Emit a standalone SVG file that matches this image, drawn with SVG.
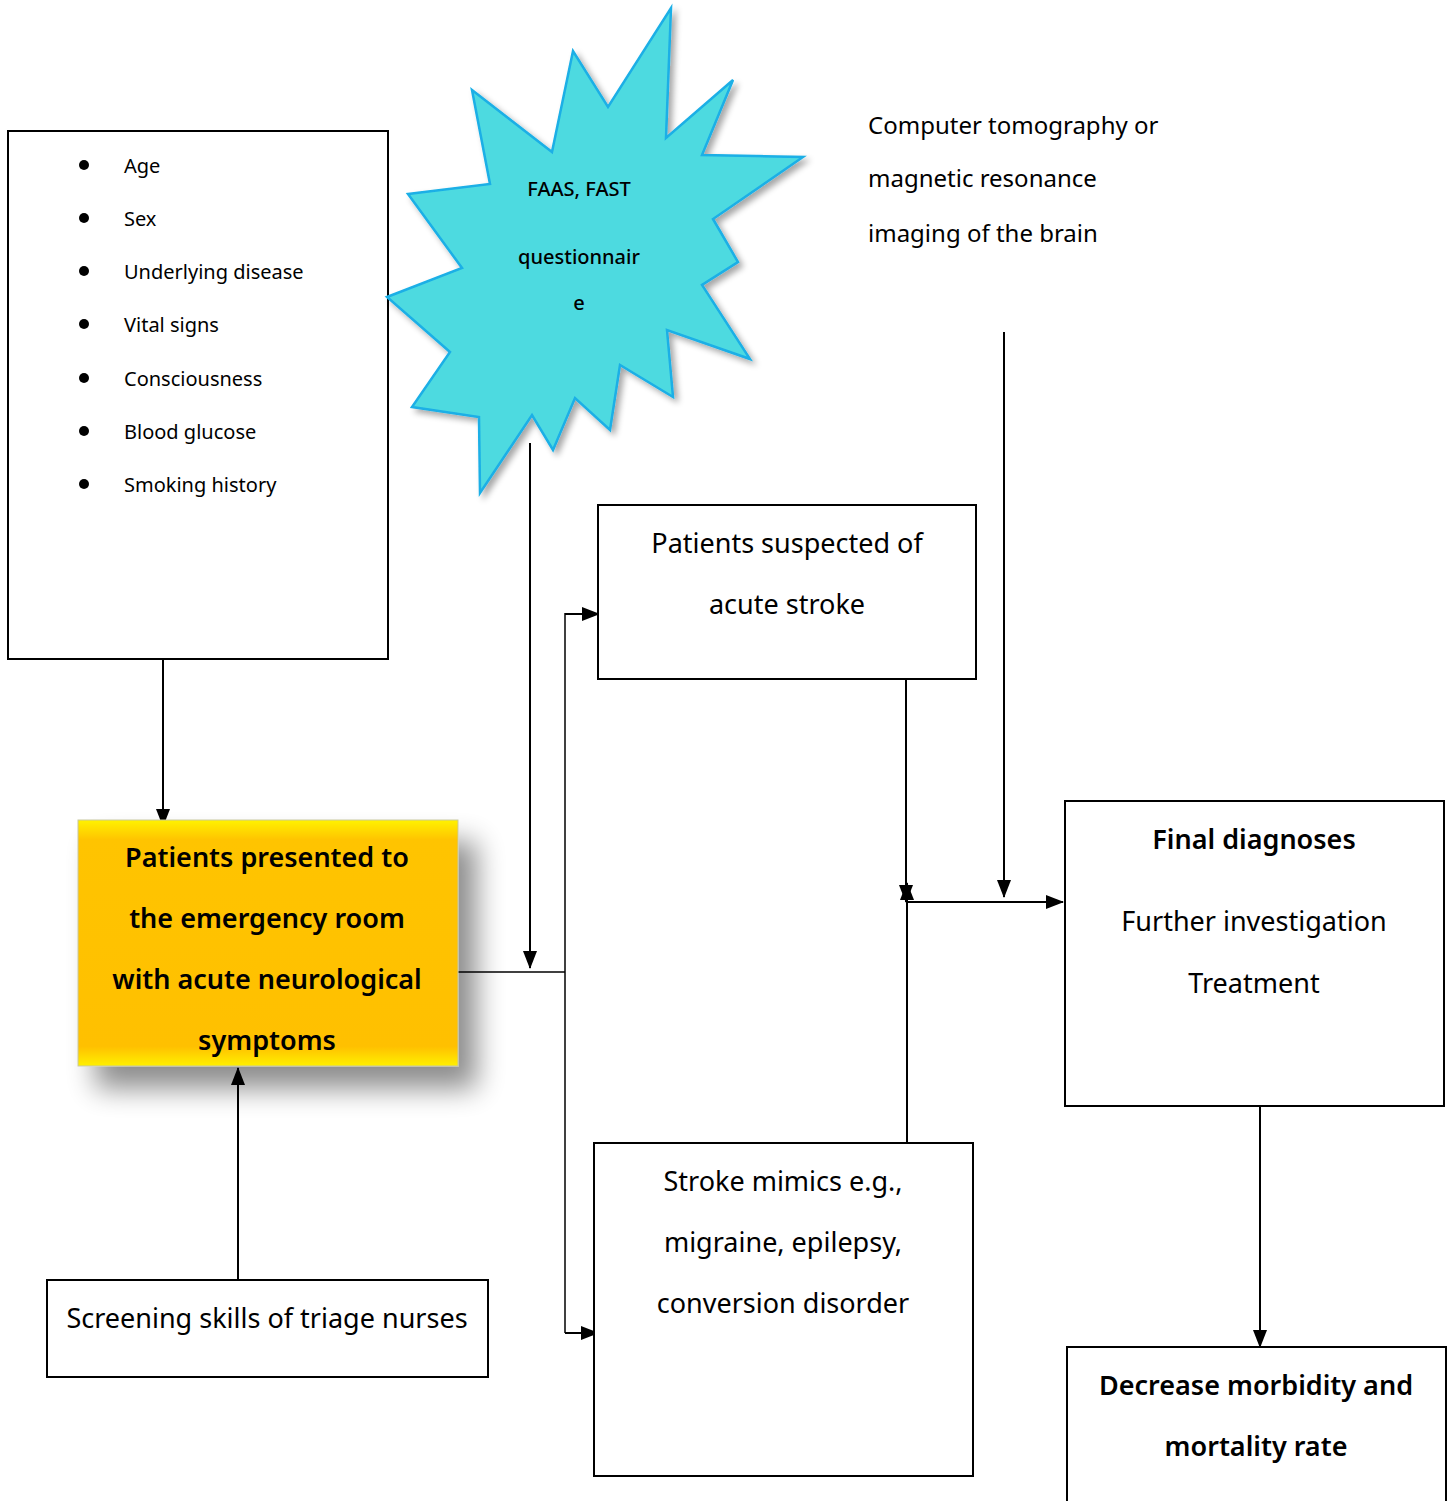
<svg xmlns="http://www.w3.org/2000/svg" width="1452" height="1501" viewBox="0 0 1452 1501">
<style>
.box{fill:#fff;stroke:#000;stroke-width:2}
.ln{fill:none;stroke:#000;stroke-width:2}
.t{font-family:"Noto Sans","DejaVu Sans",sans-serif;fill:#000}
.s{font-size:20px}
.m{font-size:27px;text-anchor:middle}
.b{font-weight:600}
</style>
<defs>
<marker id="ah" markerWidth="18" markerHeight="16" refX="17" refY="8" orient="auto" markerUnits="userSpaceOnUse">
<path d="M0,1 L18,8 L0,15 Z" fill="#000"/>
</marker>
<linearGradient id="yv" x1="0" y1="0" x2="0" y2="1">
<stop offset="0" stop-color="#FFF200"/>
<stop offset="0.08" stop-color="#FFC400"/>
<stop offset="0.92" stop-color="#FFC000"/>
<stop offset="1" stop-color="#FFF000"/>
</linearGradient>
<filter id="sh" x="-20%" y="-20%" width="160%" height="170%">
<feGaussianBlur in="SourceAlpha" stdDeviation="14"/>
<feOffset dx="18" dy="22"/>
<feComponentTransfer><feFuncA type="linear" slope="0.45"/></feComponentTransfer>
<feMerge><feMergeNode/><feMergeNode in="SourceGraphic"/></feMerge>
</filter>
<filter id="sh2" x="-20%" y="-20%" width="140%" height="140%">
<feGaussianBlur in="SourceAlpha" stdDeviation="3"/>
<feOffset dx="4" dy="4"/>
<feComponentTransfer><feFuncA type="linear" slope="0.35"/></feComponentTransfer>
<feMerge><feMergeNode/><feMergeNode in="SourceGraphic"/></feMerge>
</filter>
</defs>
<rect width="1452" height="1501" fill="#fff"/>

<g id="connectors">
<line class="ln" x1="163" y1="659" x2="163" y2="826" marker-end="url(#ah)"/>
<line class="ln" x1="238" y1="1280" x2="238" y2="1068" marker-end="url(#ah)"/>
<line class="ln" x1="530" y1="443" x2="530" y2="968" marker-end="url(#ah)"/>
<polyline class="ln" points="458,972 565,972" style="stroke-width:1.5"/>
<polyline class="ln" points="565,613 565,1333" style="stroke-width:1.5"/>
<line class="ln" x1="565" y1="614" x2="599" y2="614" marker-end="url(#ah)"/>
<line class="ln" x1="565" y1="1333" x2="598" y2="1333" marker-end="url(#ah)"/>
<line class="ln" x1="906" y1="679" x2="906" y2="902" marker-end="url(#ah)"/>
<line class="ln" x1="907" y1="1143" x2="907" y2="883" marker-end="url(#ah)"/>
<line class="ln" x1="908" y1="902" x2="1063" y2="902" marker-end="url(#ah)"/>
<line class="ln" x1="1004" y1="332" x2="1004" y2="897" marker-end="url(#ah)"/>
<line class="ln" x1="1260" y1="1106" x2="1260" y2="1347" marker-end="url(#ah)"/>
</g>

<g id="factors">
<rect class="box" x="8" y="131" width="380" height="528"/>
<g fill="#000">
<circle cx="84" cy="165" r="5"/><circle cx="84" cy="218" r="5"/><circle cx="84" cy="271" r="5"/>
<circle cx="84" cy="324" r="5"/><circle cx="84" cy="378" r="5"/><circle cx="84" cy="431" r="5"/>
<circle cx="84" cy="484" r="5"/>
</g>
<text class="t s" x="124" y="173">Age</text>
<text class="t s" x="124" y="226">Sex</text>
<text class="t s" x="124" y="279">Underlying disease</text>
<text class="t s" x="124" y="332">Vital signs</text>
<text class="t s" x="124" y="386">Consciousness</text>
<text class="t s" x="124" y="439">Blood glucose</text>
<text class="t s" x="124" y="492">Smoking history</text>
</g>

<g id="faas">
<polygon filter="url(#sh2)" fill="#4DDAE0" stroke="#1AAFE6" stroke-width="2.5" points="671,8 666,138 733,80 702,155 803,157 713,219 738,262 702,285 750,359 667,330 673,397 620,365 610,430 575,398 553,450 532,415 480,493 479,417 412,407 450,352 387,297 462,268 408,194 490,184 472,90 552,152 573,51 608,107"/>
<text class="t" x="579" y="196" font-size="20" text-anchor="middle" font-weight="500">FAAS, FAST</text>
<text class="t" x="579" y="264" font-size="20" text-anchor="middle" font-weight="500">questionnair</text>
<text class="t" x="579" y="310" font-size="20" text-anchor="middle" font-weight="500">e</text>
</g>

<g id="ct">
<text class="t" x="868" y="134" font-size="24">Computer tomography or</text>
<text class="t" x="868" y="187" font-size="24">magnetic resonance</text>
<text class="t" x="868" y="242" font-size="24">imaging of the brain</text>
</g>

<g id="presented">
<rect x="78" y="820" width="380" height="246" fill="url(#yv)" stroke="#C8C8A0" stroke-width="1" filter="url(#sh)"/>
<text class="t m b" x="267" y="867">Patients presented to</text>
<text class="t m b" x="267" y="928">the emergency room</text>
<text class="t m b" x="267" y="989">with acute neurological</text>
<text class="t m b" x="267" y="1050">symptoms</text>
</g>

<g id="screening">
<rect class="box" x="47" y="1280" width="441" height="97"/>
<text class="t m" x="267" y="1328">Screening skills of triage nurses</text>
</g>

<g id="suspected">
<rect class="box" x="598" y="505" width="378" height="174"/>
<text class="t m" x="787" y="553">Patients suspected of</text>
<text class="t m" x="787" y="614">acute stroke</text>
</g>

<g id="mimics">
<rect class="box" x="594" y="1143" width="379" height="333"/>
<text class="t m" x="783" y="1191">Stroke mimics e.g.,</text>
<text class="t m" x="783" y="1252">migraine, epilepsy,</text>
<text class="t m" x="783" y="1313">conversion disorder</text>
</g>

<g id="final">
<rect class="box" x="1065" y="801" width="379" height="305"/>
<text class="t m b" x="1254" y="849">Final diagnoses</text>
<text class="t m" x="1254" y="931">Further investigation</text>
<text class="t m" x="1254" y="993">Treatment</text>
</g>

<g id="decrease">
<rect class="box" x="1067" y="1347" width="379" height="170"/>
<text class="t m b" x="1256" y="1395">Decrease morbidity and</text>
<text class="t m b" x="1256" y="1456">mortality rate</text>
</g>
</svg>
